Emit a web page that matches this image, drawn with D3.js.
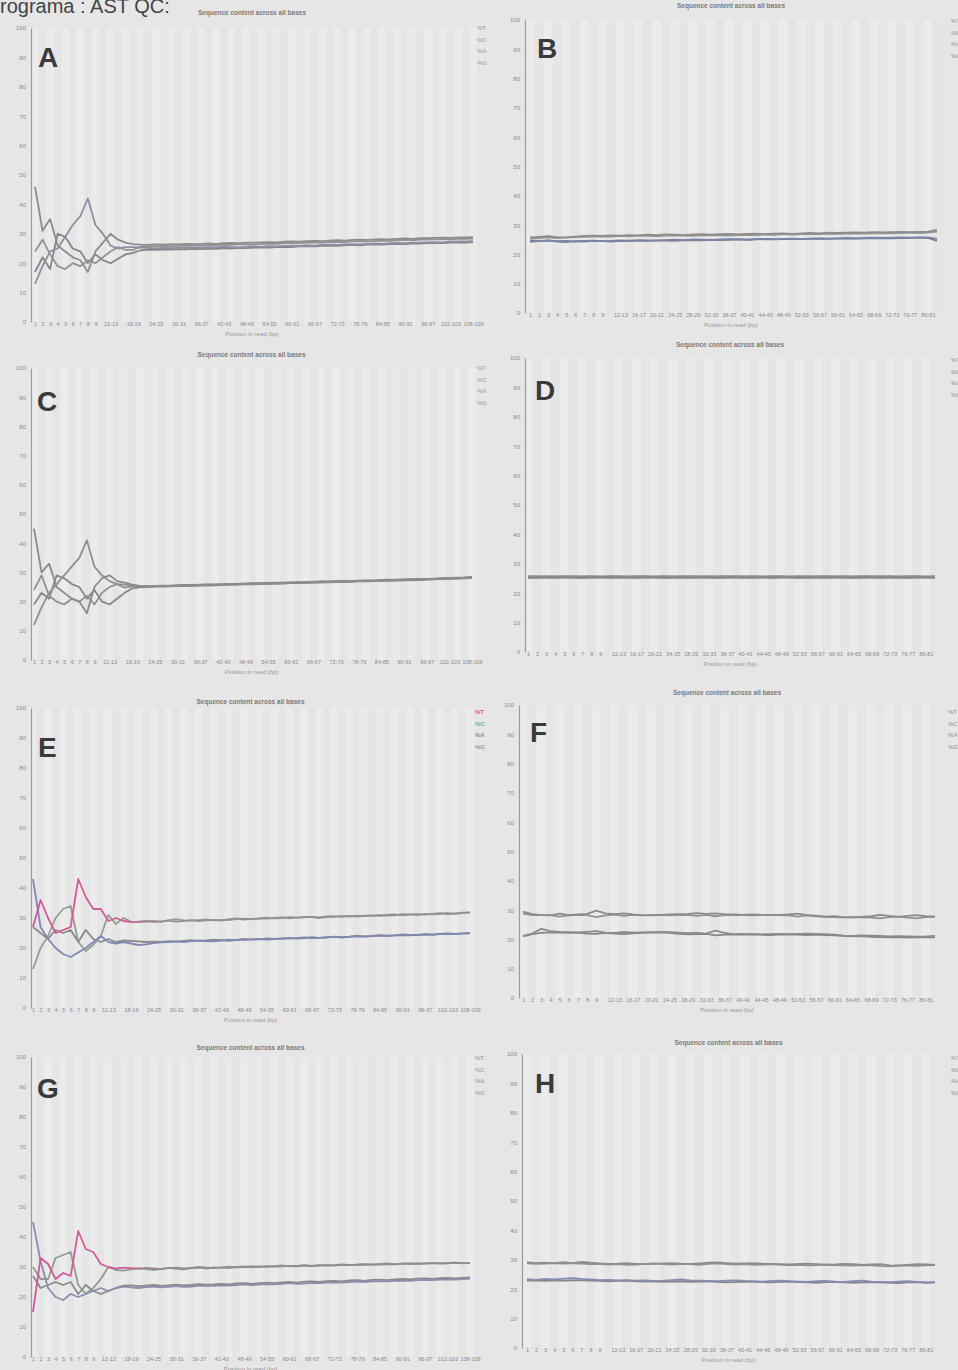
<!DOCTYPE html>
<html>
<head>
<meta charset="utf-8">
<script src="https://cdn.jsdelivr.net/npm/d3@7"></script>
<style>
  html, body { margin: 0; padding: 0; background: #e6e6e6; }
  svg { display: block; font-family: "Liberation Sans", Arial, sans-serif; }
  .ttl { font-size: 6.5px; font-weight: bold; fill: #7a7a7a; }
  .tick text { fill: #8a8a8a; }
  .axis-lbl { font-size: 6px; fill: #999; }
  .letter { font-size: 28px; font-weight: bold; fill: #3a3a3a; }
</style>
</head>
<body>
<svg id="chart" width="958" height="1370"></svg>
<script>
// ── Category labels (position in read) ───────────────────────────────────────
const LEFT_CATS = ["1","2","3","4","5","6","7","8","9",
  "10-11","12-13","14-15","16-17","18-19","20-21","22-23","24-25","26-27","28-29",
  "30-31","32-33","34-35","36-37","38-39","40-41","42-43","44-45","46-47","48-49",
  "50-51","52-53","54-55","56-57","58-59","60-61","62-63","64-65","66-67","68-69",
  "70-71","72-73","74-75","76-77","78-79","80-81","82-83","84-85","86-87","88-89",
  "90-91","92-93","94-95","96-97","98-99","100-101","102-103","104-105","106-107","108-109"];

const RIGHT_CATS = ["1","2","3","4","5","6","7","8","9",
  "10-11","12-13","14-15","16-17","18-19","20-21","22-23","24-25","26-27","28-29",
  "30-31","32-33","34-35","36-37","38-39","40-41","42-43","44-45","46-47","48-49",
  "50-51","52-53","54-55","56-57","58-59","60-61","62-63","64-65","66-67","68-69",
  "70-71","72-73","74-75","76-77","78-79","80-81","82-83"];

const BASES = ["%T", "%C", "%A", "%G"];
const Y_TICKS = [0, 10, 20, 30, 40, 50, 60, 70, 80, 90, 100];

// ── Panel A ──────────────────────────────────────────────────────────────────
const A_T = [46, 31, 35, 26, 24, 22, 21, 17, 24, 27,
  30, 28, 27, 26.5, 26.3, 26.2, 26.4, 26.3, 26.5, 26.4,
  26.6, 26.5, 26.6, 26.7, 26.6, 26.8, 26.9, 26.8, 27.0, 27.0,
  27.1, 27.2, 27.1, 27.3, 27.4, 27.3, 27.5, 27.6, 27.5, 27.7,
  27.8, 27.7, 27.9, 28.0, 27.9, 28.1, 28.2, 28.1, 28.3, 28.4,
  28.3, 28.5, 28.5, 28.6, 28.7, 28.6, 28.8, 28.8, 28.9];
const A_C = [13, 19, 24, 25, 29, 33, 36, 42, 33, 30,
  26, 25, 25.5, 25.5, 25.3, 25.2, 25.0, 25.2, 25.1, 25.3,
  25.2, 25.4, 25.3, 25.5, 25.4, 25.6, 25.5, 25.4, 25.6, 25.7,
  25.6, 25.8, 25.7, 25.9, 26.0, 25.9, 26.1, 26.0, 26.2, 26.3,
  26.2, 26.4, 26.5, 26.4, 26.6, 26.7, 26.6, 26.8, 26.9, 26.8,
  27.0, 27.0, 27.1, 27.2, 27.1, 27.3, 27.4, 27.4, 27.5];
const A_A = [24, 28, 23, 19, 18, 20, 19, 21, 20, 22,
  24, 25.5, 24.5, 24.5, 25.6, 25.8, 25.7, 25.9, 25.8, 26.0,
  25.9, 26.1, 26.0, 26.2, 26.1, 26.3, 26.2, 26.4, 26.5, 26.4,
  26.6, 26.7, 26.6, 26.8, 26.9, 26.8, 27.0, 27.1, 27.0, 27.2,
  27.3, 27.2, 27.4, 27.5, 27.4, 27.6, 27.7, 27.6, 27.8, 27.9,
  27.8, 28.0, 28.0, 28.1, 28.2, 28.1, 28.3, 28.3, 28.4];
const A_G = [17, 22, 18, 30, 29, 25, 24, 20, 23, 21,
  20, 21.5, 23, 23.5, 24.4, 24.6, 24.5, 24.7, 24.6, 24.8,
  24.7, 24.9, 24.8, 25.0, 24.9, 25.1, 25.0, 25.2, 25.1, 25.3,
  25.4, 25.3, 25.5, 25.6, 25.5, 25.7, 25.8, 25.7, 25.9, 26.0,
  25.9, 26.1, 26.2, 26.1, 26.3, 26.4, 26.3, 26.5, 26.6, 26.5,
  26.7, 26.7, 26.8, 26.9, 26.8, 27.0, 27.1, 27.0, 27.2];

// ── Panel B ──────────────────────────────────────────────────────────────────
const B_T = [25.8, 26.0, 26.2, 25.9, 25.8, 26.1, 26.3, 26.4, 26.3, 26.5,
  26.4, 26.6, 26.5, 26.7, 26.6, 26.8, 26.7, 26.6, 26.8, 26.9,
  26.7, 26.9, 27.0, 26.8, 27.0, 27.1, 26.9, 27.1, 27.2, 27.0,
  27.2, 27.3, 27.2, 27.4, 27.3, 27.4, 27.5, 27.4, 27.6, 27.5,
  27.6, 27.7, 27.6, 27.7, 27.8, 28.4];
const B_C = [24.8, 24.6, 24.7, 24.5, 24.6, 24.4, 24.6, 24.7, 24.5, 24.6,
  24.8, 24.7, 24.9, 24.8, 24.7, 24.9, 25.0, 24.9, 25.1, 25.0,
  24.9, 25.1, 25.2, 25.1, 25.0, 25.2, 25.3, 25.2, 25.3, 25.4,
  25.3, 25.4, 25.5, 25.4, 25.5, 25.6, 25.5, 25.6, 25.7, 25.6,
  25.7, 25.8, 25.7, 25.8, 25.8, 25.3];
const B_A = [25.5, 25.6, 25.8, 25.6, 25.7, 25.9, 26.0, 26.1, 26.2, 26.1,
  26.3, 26.2, 26.4, 26.3, 26.2, 26.4, 26.5, 26.4, 26.3, 26.5,
  26.6, 26.5, 26.4, 26.6, 26.7, 26.6, 26.8, 26.7, 26.9, 26.8,
  26.9, 27.0, 26.9, 27.1, 27.0, 27.1, 27.2, 27.1, 27.2, 27.3,
  27.2, 27.3, 27.4, 27.3, 27.4, 27.8];
const B_G = [24.3, 24.5, 24.8, 24.4, 24.2, 24.5, 24.4, 24.6, 24.5, 24.4,
  24.6, 24.5, 24.7, 24.6, 24.8, 24.7, 24.6, 24.8, 24.9, 24.8,
  25.0, 24.9, 25.0, 25.1, 25.0, 25.1, 25.2, 25.1, 25.2, 25.3,
  25.2, 25.3, 25.4, 25.3, 25.4, 25.5, 25.4, 25.5, 25.5, 25.6,
  25.5, 25.6, 25.6, 25.7, 25.6, 24.6];

// ── Panel C ──────────────────────────────────────────────────────────────────
const C_T = [45, 30, 33, 25, 23, 21, 20, 16, 25, 28,
  29, 27, 26.5, 25.8, 25.4, 25.3, 25.4, 25.5, 25.5, 25.6,
  25.7, 25.7, 25.8, 25.9, 25.9, 26.0, 26.1, 26.1, 26.2, 26.3,
  26.3, 26.4, 26.5, 26.5, 26.6, 26.7, 26.7, 26.8, 26.9, 26.9,
  27.0, 27.1, 27.1, 27.2, 27.3, 27.3, 27.4, 27.5, 27.5, 27.6,
  27.7, 27.8, 27.8, 27.9, 28.0, 28.1, 28.2, 28.3, 28.5];
const C_C = [12, 18, 23, 26, 29, 32, 35, 41, 32, 29,
  27, 26, 25.8, 25.5, 25.2, 25.1, 25.2, 25.3, 25.3, 25.4,
  25.5, 25.5, 25.6, 25.7, 25.7, 25.8, 25.9, 25.9, 26.0, 26.1,
  26.1, 26.2, 26.3, 26.3, 26.4, 26.5, 26.5, 26.6, 26.7, 26.7,
  26.8, 26.9, 26.9, 27.0, 27.1, 27.1, 27.2, 27.3, 27.3, 27.4,
  27.5, 27.6, 27.6, 27.7, 27.8, 27.9, 28.0, 28.1, 28.2];
const C_A = [24, 29, 22, 20, 19, 21, 20, 22, 19, 23,
  25, 26, 24.8, 25.2, 25.3, 25.2, 25.3, 25.4, 25.4, 25.5,
  25.6, 25.6, 25.7, 25.8, 25.8, 25.9, 26.0, 26.0, 26.1, 26.2,
  26.2, 26.3, 26.4, 26.4, 26.5, 26.6, 26.6, 26.7, 26.8, 26.8,
  26.9, 27.0, 27.0, 27.1, 27.2, 27.2, 27.3, 27.4, 27.4, 27.5,
  27.6, 27.7, 27.7, 27.8, 27.9, 28.0, 28.1, 28.2, 28.4];
const C_G = [19, 23, 21, 29, 28, 26, 25, 21, 24, 20,
  19, 21, 23, 24.5, 24.9, 25.0, 25.1, 25.1, 25.2, 25.3,
  25.3, 25.4, 25.5, 25.5, 25.6, 25.7, 25.7, 25.8, 25.9, 25.9,
  26.0, 26.1, 26.1, 26.2, 26.3, 26.3, 26.4, 26.5, 26.5, 26.6,
  26.7, 26.7, 26.8, 26.9, 26.9, 27.0, 27.1, 27.1, 27.2, 27.3,
  27.3, 27.4, 27.5, 27.6, 27.7, 27.8, 27.9, 28.0, 28.1];

// ── Panel D ──────────────────────────────────────────────────────────────────
const D_T = [25.8, 25.7, 25.8, 25.7, 25.8, 25.8, 25.7, 25.8, 25.7, 25.8,
  25.8, 25.7, 25.8, 25.8, 25.7, 25.8, 25.7, 25.8, 25.8, 25.7,
  25.8, 25.7, 25.8, 25.8, 25.7, 25.8, 25.7, 25.8, 25.8, 25.7,
  25.8, 25.7, 25.8, 25.8, 25.7, 25.8, 25.7, 25.8, 25.8, 25.7,
  25.8, 25.7, 25.8, 25.8, 25.7, 25.8];
const D_C = [25.3, 25.4, 25.3, 25.4, 25.4, 25.3, 25.4, 25.3, 25.4, 25.4,
  25.3, 25.4, 25.3, 25.4, 25.4, 25.3, 25.4, 25.3, 25.4, 25.4,
  25.3, 25.4, 25.3, 25.4, 25.4, 25.3, 25.4, 25.3, 25.4, 25.4,
  25.3, 25.4, 25.3, 25.4, 25.4, 25.3, 25.4, 25.3, 25.4, 25.4,
  25.3, 25.4, 25.3, 25.4, 25.4, 25.3];
const D_A = [25.6, 25.6, 25.5, 25.6, 25.6, 25.5, 25.6, 25.6, 25.5, 25.6,
  25.6, 25.5, 25.6, 25.6, 25.5, 25.6, 25.6, 25.5, 25.6, 25.6,
  25.5, 25.6, 25.6, 25.5, 25.6, 25.6, 25.5, 25.6, 25.6, 25.5,
  25.6, 25.6, 25.5, 25.6, 25.6, 25.5, 25.6, 25.6, 25.5, 25.6,
  25.6, 25.5, 25.6, 25.6, 25.5, 25.6];
const D_G = [25.2, 25.3, 25.3, 25.2, 25.3, 25.3, 25.2, 25.3, 25.3, 25.2,
  25.3, 25.3, 25.2, 25.3, 25.3, 25.2, 25.3, 25.3, 25.2, 25.3,
  25.3, 25.2, 25.3, 25.3, 25.2, 25.3, 25.3, 25.2, 25.3, 25.3,
  25.2, 25.3, 25.3, 25.2, 25.3, 25.3, 25.2, 25.3, 25.3, 25.2,
  25.3, 25.3, 25.2, 25.3, 25.3, 25.2];

// ── Panel E ──────────────────────────────────────────────────────────────────
const E_T = [27, 36, 30, 25, 26, 27, 43, 37, 33, 33,
  29, 30, 29, 28.6, 28.8, 29.0, 28.7, 28.9, 29.1, 28.8,
  29.0, 29.3, 29.0, 29.2, 29.4, 29.1, 29.6, 29.9, 29.5, 29.7,
  29.8, 30.1, 29.9, 30.0, 30.3, 30.1, 30.2, 30.4, 30.2, 30.5,
  30.6, 30.4, 30.7, 30.5, 30.8, 30.9, 30.7, 31.0, 31.2, 30.9,
  31.1, 31.3, 31.1, 31.4, 31.6, 31.3, 31.5, 31.8, 31.9];
const E_C = [43, 27, 23, 20, 18, 17, 18.5, 20, 22, 24,
  22, 21.5, 22, 21.5, 21.0, 21.2, 21.6, 21.9, 22.0, 22.2,
  22.0, 22.3, 22.5, 22.3, 22.2, 22.5, 22.8, 22.6, 22.7, 22.9,
  23.0, 22.8, 23.0, 23.2, 23.1, 23.3, 23.5, 23.3, 23.4, 23.6,
  23.7, 23.5, 23.7, 23.9, 23.8, 24.0, 24.1, 24.0, 24.2, 24.3,
  24.2, 24.4, 24.5, 24.4, 24.6, 24.7, 24.6, 24.8, 24.9];
const E_A = [13, 20, 24, 30, 33, 34, 22, 19, 21, 24,
  31, 28, 30, 28.8, 28.6, 28.8, 29.0, 28.7, 29.3, 29.6,
  29.2, 29.1, 29.3, 29.5, 29.2, 29.4, 29.3, 29.6, 29.8, 29.6,
  29.9, 29.8, 30.0, 30.2, 29.9, 30.1, 30.4, 30.3, 30.0, 30.3,
  30.4, 30.7, 30.5, 30.8, 30.6, 30.7, 31.0, 30.8, 30.9, 31.3,
  31.2, 31.0, 31.4, 31.2, 31.3, 31.7, 31.4, 31.6, 31.8];
const E_G = [27, 25, 23, 26, 25, 26, 22, 26, 23, 22,
  23, 22, 22.5, 22.4, 22.2, 22.0, 22.1, 22.0, 22.3, 22.1,
  22.4, 22.6, 22.3, 22.5, 22.8, 22.6, 22.4, 22.7, 23.0, 22.8,
  22.9, 23.2, 23.0, 23.1, 23.4, 23.1, 23.3, 23.6, 23.4, 23.5,
  23.8, 23.6, 23.8, 24.1, 23.9, 24.0, 24.3, 24.1, 24.2, 24.5,
  24.4, 24.3, 24.6, 24.5, 24.7, 24.9, 24.7, 24.9, 25.0];

// ── Panel F ──────────────────────────────────────────────────────────────────
const F_T = [29.5, 28.6, 28.3, 28.2, 28.8, 28.3, 28.5, 28.7, 29.8, 28.9,
  28.6, 28.9, 28.5, 28.3, 28.2, 28.4, 28.5, 28.6, 28.7, 29.0,
  28.7, 28.9, 28.6, 28.5, 28.4, 28.5, 28.4, 28.3, 28.4, 28.5,
  28.8, 28.3, 28.1, 27.8, 27.9, 27.6, 27.5, 27.7, 27.9, 28.4,
  28.0, 27.7, 28.0, 28.3, 27.9, 27.8];
const F_C = [21.2, 22.0, 23.6, 22.8, 22.6, 22.5, 22.4, 22.6, 22.8, 22.3,
  22.2, 22.6, 22.3, 22.4, 22.5, 22.6, 22.5, 22.3, 22.1, 22.2,
  22.0, 23.0, 22.2, 21.8, 21.9, 21.8, 21.7, 21.8, 21.9, 21.8,
  21.9, 22.0, 21.9, 21.8, 21.6, 21.3, 21.2, 21.4, 21.3, 21.2,
  21.0, 21.1, 21.0, 20.9, 21.0, 21.2];
const F_A = [28.8, 28.3, 28.4, 28.3, 27.8, 28.2, 28.4, 28.3, 27.6, 28.2,
  28.5, 28.0, 28.4, 28.2, 28.3, 28.4, 28.2, 28.3, 28.4, 28.0,
  28.4, 27.9, 28.3, 28.4, 28.3, 28.2, 28.3, 28.4, 28.3, 28.2,
  27.8, 28.2, 27.9, 27.7, 27.6, 27.5, 27.6, 27.5, 27.4, 27.2,
  27.6, 27.8, 27.4, 27.2, 27.6, 27.7];
const F_G = [21.0, 21.8, 22.2, 22.4, 22.3, 22.2, 22.3, 22.0, 21.9, 22.2,
  22.0, 21.8, 22.1, 22.2, 22.3, 22.4, 22.2, 21.9, 21.7, 21.8,
  21.9, 21.4, 21.6, 21.7, 21.6, 21.7, 21.6, 21.5, 21.6, 21.7,
  21.6, 21.5, 21.6, 21.5, 21.4, 21.2, 21.0, 21.1, 20.9, 20.8,
  20.7, 20.8, 20.6, 20.7, 20.8, 20.7];

// ── Panel G ──────────────────────────────────────────────────────────────────
const G_T = [15, 33, 31, 26, 28, 27, 42, 36, 35, 31,
  30, 29.5, 29.8, 29.6, 29.4, 29.7, 29.5, 29.3, 29.6, 29.8,
  29.5, 29.7, 30.0, 29.8, 29.6, 29.9, 30.1, 29.9, 30.0, 30.2,
  30.0, 30.3, 30.1, 30.2, 30.4, 30.2, 30.5, 30.3, 30.4, 30.6,
  30.5, 30.7, 30.6, 30.8, 30.7, 30.9, 30.8, 31.0, 30.9, 31.1,
  31.0, 31.2, 31.1, 31.2, 31.3, 31.2, 31.4, 31.3, 31.4];
const G_C = [45, 32, 23, 20, 19, 21, 20, 21, 22, 23,
  22, 23, 23.5, 23.2, 23.0, 23.3, 23.5, 23.2, 23.4, 23.6,
  23.4, 23.5, 23.8, 23.6, 23.7, 23.9, 23.8, 24.0, 24.2, 24.0,
  24.1, 24.3, 24.2, 24.4, 24.6, 24.4, 24.5, 24.7, 24.6, 24.8,
  24.9, 24.8, 25.0, 25.1, 25.0, 25.2, 25.3, 25.2, 25.4, 25.5,
  25.4, 25.6, 25.7, 25.6, 25.8, 25.9, 25.8, 26.0, 26.1];
const G_A = [30, 26, 26, 33, 34, 35, 24, 21, 23, 26,
  30, 29, 28.8, 29.2, 29.6, 29.3, 29.0, 29.4, 29.7, 29.4,
  29.2, 29.6, 29.8, 29.5, 29.9, 29.7, 29.6, 30.0, 30.2, 29.9,
  30.2, 30.0, 30.3, 30.5, 30.2, 30.4, 30.6, 30.4, 30.7, 30.5,
  30.6, 30.9, 30.7, 30.8, 31.0, 30.8, 31.0, 31.2, 30.9, 31.1,
  31.3, 31.0, 31.2, 31.4, 31.1, 31.3, 31.5, 31.2, 31.3];
const G_G = [27, 23, 24, 25, 24, 25, 21, 24, 22, 21,
  22, 23, 23.8, 23.9, 23.6, 23.8, 24.0, 23.7, 23.9, 24.1,
  23.9, 24.0, 24.3, 24.1, 24.2, 24.4, 24.2, 24.5, 24.6, 24.4,
  24.6, 24.8, 24.6, 24.9, 25.0, 24.8, 25.1, 25.2, 25.0, 25.3,
  25.4, 25.2, 25.5, 25.6, 25.4, 25.7, 25.8, 25.6, 25.9, 26.0,
  25.9, 26.1, 26.2, 26.0, 26.3, 26.4, 26.2, 26.4, 26.5];

// ── Panel H ──────────────────────────────────────────────────────────────────
const H_T = [29.2, 28.9, 29.0, 28.8, 28.7, 28.9, 29.3, 29.0, 28.8, 28.6,
  28.7, 28.9, 28.6, 28.5, 28.6, 28.8, 28.9, 28.7, 28.6, 28.8,
  29.0, 29.1, 28.9, 28.7, 28.8, 28.9, 28.7, 28.6, 28.5, 28.4,
  28.6, 28.7, 28.5, 28.3, 28.4, 28.6, 28.5, 28.3, 28.4, 28.5,
  28.1, 28.0, 28.3, 28.5, 28.4, 28.3];
const H_C = [23.4, 23.2, 23.5, 23.3, 23.6, 23.8, 23.5, 23.3, 23.1, 23.2,
  23.0, 23.1, 22.9, 23.0, 22.8, 22.9, 23.1, 23.3, 23.0, 22.9,
  22.8, 22.7, 22.9, 23.0, 22.8, 22.7, 22.6, 22.8, 22.9, 22.7,
  22.6, 22.5, 22.7, 22.8, 22.6, 22.5, 22.7, 22.9, 22.6, 22.5,
  22.4, 22.6, 22.7, 22.5, 22.3, 22.4];
const H_A = [28.8, 28.6, 28.7, 28.9, 29.2, 28.8, 28.7, 28.5, 28.6, 28.4,
  28.5, 28.3, 28.4, 28.6, 28.8, 28.5, 28.4, 28.6, 28.5, 28.3,
  28.6, 28.8, 28.5, 28.4, 28.5, 28.3, 28.4, 28.5, 28.3, 28.2,
  28.3, 28.1, 28.2, 28.4, 28.2, 28.1, 28.0, 28.2, 28.1, 27.9,
  27.8, 28.1, 28.0, 27.9, 28.1, 28.2];
const H_G = [22.9, 23.0, 22.8, 23.0, 22.9, 23.0, 23.1, 22.9, 22.8, 22.7,
  22.8, 22.9, 22.7, 22.6, 22.7, 22.5, 22.6, 22.7, 22.5, 22.6,
  22.7, 22.5, 22.3, 22.4, 22.6, 22.5, 22.4, 22.3, 22.5, 22.6,
  22.4, 22.3, 22.2, 22.4, 22.5, 22.3, 22.2, 22.3, 22.4, 22.3,
  22.2, 22.1, 22.3, 22.4, 22.2, 22.3];

// ── Layout + look of each panel (series order: T, C, A, G) ───────────────────
const GREY  = ["#8d8d8d", "#8a90a4", "#939393", "#868686"];
const PANELS = [
  { id: "A", cats: LEFT_CATS,  series: [A_T, A_C, A_A, A_G], colors: GREY,
    axisX: 31, y100: 28, y0: 322, x0: 35, x1: 473, titleY: 15, letter: [38, 67], legend: [477, 30],
    legendColors: ["#b0b0b0", "#b0b0b0", "#b0b0b0", "#b0b0b0"] },
  { id: "B", cats: RIGHT_CATS, series: [B_T, B_C, B_A, B_G], colors: ["#8d8d8d", "#7a84aa", "#959595", "#818181"],
    axisX: 525, y100: 20, y0: 313, x0: 530, x1: 937, titleY: 8, letter: [537, 58], legend: [951, 23],
    legendColors: ["#a8a8a8", "#a8a8a8", "#a8a8a8", "#a8a8a8"] },
  { id: "C", cats: LEFT_CATS,  series: [C_T, C_C, C_A, C_G], colors: ["#8b8b8b", "#8d8f99", "#919191", "#878787"],
    axisX: 31, y100: 368, y0: 660, x0: 34, x1: 472, titleY: 357, letter: [37, 411], legend: [477, 370],
    legendColors: ["#b0b0b0", "#b0b0b0", "#b0b0b0", "#b0b0b0"] },
  { id: "D", cats: RIGHT_CATS, series: [D_T, D_C, D_A, D_G], colors: ["#8a8a8a", "#888a92", "#8f8f8f", "#858585"],
    axisX: 525, y100: 358, y0: 652, x0: 528, x1: 935, titleY: 347, letter: [535, 400], legend: [951, 362],
    legendColors: ["#a8a8a8", "#a8a8a8", "#a8a8a8", "#a8a8a8"] },
  { id: "E", cats: LEFT_CATS,  series: [E_T, E_C, E_A, E_G], colors: ["#9a8e94", "#8088b4", "#939f90", "#8a8a8a"],
    pinkUntil: 0.22, axisX: 31, y100: 708, y0: 1008, x0: 33, x1: 470, titleY: 704, letter: [38, 757], legend: [475, 714],
    legendColors: ["#e0559a", "#5fb0aa", "#8a8a8a", "#9a9a9a"] },
  { id: "F", cats: RIGHT_CATS, series: [F_T, F_C, F_A, F_G], colors: ["#8c8c8c", "#898b93", "#939393", "#868686"],
    axisX: 519, y100: 705, y0: 998, x0: 523, x1: 935, titleY: 695, letter: [530, 742], legend: [948, 714],
    legendColors: ["#a8a8a8", "#a8a8a8", "#a8a8a8", "#a8a8a8"] },
  { id: "G", cats: LEFT_CATS,  series: [G_T, G_C, G_A, G_G], colors: ["#958c8a", "#8a8fae", "#919c8c", "#8a8a8a"],
    pinkUntil: 0.22, axisX: 31, y100: 1057, y0: 1357, x0: 33, x1: 470, titleY: 1050, letter: [37, 1098], legend: [475, 1060],
    legendColors: ["#b8a0a8", "#a0b0b0", "#a8a8a8", "#a8a8a8"] },
  { id: "H", cats: RIGHT_CATS, series: [H_T, H_C, H_A, H_G], colors: ["#958a8e", "#858db0", "#929292", "#878787"],
    axisX: 522, y100: 1054, y0: 1348, x0: 527, x1: 935, titleY: 1045, letter: [535, 1093], legend: [951, 1060],
    legendColors: ["#a8a8a8", "#a8a8a8", "#a8a8a8", "#a8a8a8"] },
];

const svg  = d3.select("#chart");
const defs = svg.append("defs");

// Header text, cut off at the top-left edge of the scan
svg.append("text")
  .attr("x", 0).attr("y", 13)
  .attr("font-size", "20px").attr("fill", "#444")
  .text("rograma : AST QC:");

PANELS.forEach(p => {
  const g = svg.append("g").attr("class", "panel-" + p.id);

  const x = d3.scalePoint().domain(p.cats).range([p.x0, p.x1]);
  const y = d3.scaleLinear().domain([0, 100]).range([p.y0, p.y100]);
  const step = x.step();

  // Alternating background bands, one per position group
  g.append("g").selectAll("rect")
    .data(p.cats)
    .join("rect")
    .attr("x", d => Math.max(p.axisX, x(d) - step / 2))
    .attr("width", d => x(d) + step / 2 - Math.max(p.axisX, x(d) - step / 2))
    .attr("y", p.y100).attr("height", p.y0 - p.y100)
    .attr("fill", (d, i) => i % 2 ? "#e5e5e5" : "#ebebeb");

  // Y axis
  const yAx = g.append("g").attr("transform", `translate(${p.axisX},0)`)
    .call(d3.axisLeft(y).tickValues(Y_TICKS).tickSize(0).tickPadding(5));
  yAx.select(".domain").attr("stroke", "#9a9a9a").attr("stroke-width", 1.2);
  yAx.selectAll("text").attr("font-size", "6px");

  // X axis (labels only, thinned where they would collide)
  const xAx = g.append("g").attr("transform", `translate(0,${p.y0})`)
    .call(d3.axisBottom(x).tickSize(0).tickPadding(0));
  xAx.select(".domain").remove();
  xAx.selectAll("text").attr("font-size", "5.5px").attr("fill", "#999");
  let lastRight = -Infinity;
  xAx.selectAll(".tick").each(function (d) {
    const t = d3.select(this).select("text");
    const w = t.node().getComputedTextLength();
    if (x(d) - w / 2 < lastRight + 2) d3.select(this).remove();
    else lastRight = x(d) + w / 2;
  });

  g.append("text").attr("class", "axis-lbl")
    .attr("x", (p.axisX + p.x1) / 2).attr("y", p.y0 + 14)
    .attr("text-anchor", "middle").text("Position in read (bp)");

  // Title
  g.append("text").attr("class", "ttl")
    .attr("x", (p.axisX + p.x1) / 2).attr("y", p.titleY)
    .attr("text-anchor", "middle").text("Sequence content across all bases");

  // Lines (draw G, A, C, T so T sits on top)
  const line = d3.line()
    .x((d, i) => x(p.cats[i]))
    .y(d => y(d));
  [3, 2, 1, 0].forEach(k => {
    let stroke = p.colors[k];
    if (k === 0 && p.pinkUntil) {
      const gid = "pink-" + p.id;
      const grad = defs.append("linearGradient").attr("id", gid)
        .attr("gradientUnits", "userSpaceOnUse")
        .attr("x1", p.x0).attr("x2", p.x1).attr("y1", 0).attr("y2", 0);
      grad.append("stop").attr("offset", 0).attr("stop-color", "#d2559a");
      grad.append("stop").attr("offset", p.pinkUntil).attr("stop-color", "#d0609e");
      grad.append("stop").attr("offset", p.pinkUntil + 0.05).attr("stop-color", p.colors[0]);
      grad.append("stop").attr("offset", 1).attr("stop-color", p.colors[0]);
      stroke = `url(#${gid})`;
    }
    g.append("path")
      .datum(p.series[k])
      .attr("fill", "none")
      .attr("stroke", stroke)
      .attr("stroke-width", 1.8)
      .attr("stroke-linejoin", "round")
      .attr("d", line);
  });

  // Legend
  const leg = g.append("g").attr("transform", `translate(${p.legend[0]},${p.legend[1]})`);
  BASES.forEach((b, i) => {
    leg.append("text").attr("y", i * 11.5)
      .attr("font-size", "6px").attr("font-weight", "bold")
      .attr("fill", p.legendColors[i]).text(b);
  });

  // Panel letter
  g.append("text").attr("class", "letter")
    .attr("x", p.letter[0]).attr("y", p.letter[1]).text(p.id);
});
</script>
</body>
</html>
